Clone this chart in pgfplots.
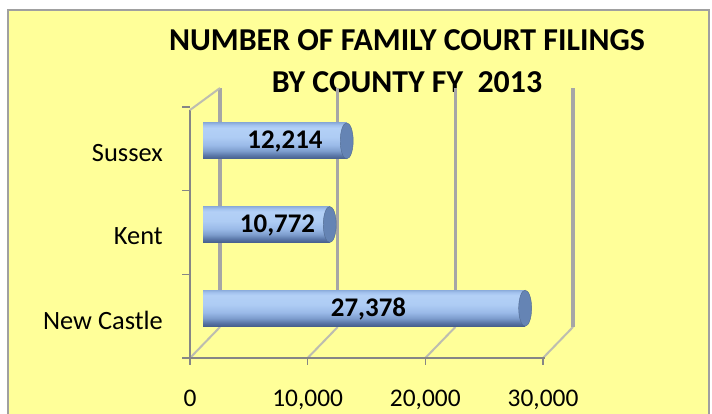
\documentclass[border=0pt]{standalone}
\usepackage{pgfplots}
\pgfplotsset{compat=1.18}
\usepackage{pgfplotstable}
\usepackage{fontspec}
\setmainfont{Carlito}
\definecolor{bgyellow}{HTML}{FFFF99}
\definecolor{framegray}{HTML}{A0A0A0}
\definecolor{gridgray}{HTML}{A6A6A6}
\definecolor{floorgray}{HTML}{BDBDB0}
\definecolor{axisgray}{HTML}{868686}
\definecolor{capcol}{HTML}{6584B4}
\definecolor{cA}{HTML}{465F8C}
\definecolor{cB}{HTML}{5A77A8}
\definecolor{cC}{HTML}{7D9DCD}
\definecolor{cD}{HTML}{9ABAE8}
\definecolor{cE}{HTML}{AECCF4}
\definecolor{cF}{HTML}{B3D0F6}
\definecolor{cG}{HTML}{A3C2EE}
\definecolor{cH}{HTML}{8EAEDC}
\pgfdeclareverticalshading{cylinder}{100bp}{color(0bp)=(cA); color(25bp)=(cA); color(30bp)=(cB); color(36bp)=(cC); color(44bp)=(cD); color(55bp)=(cE); color(68bp)=(cF); color(72bp)=(cG); color(75bp)=(cH); color(100bp)=(cH)}

\pgfplotstableread{
y value labelx
0 27378 15170
1 10772 7440
2 12214 8070
}\filings

\pgfplotsset{
  cylbar/.style={xbar, bar width=36bp, bar shift=0pt, xshift=13bp, yshift=8bp, draw=none,
    shade, shading=cylinder},
}

\begin{document}
\begin{tikzpicture}[x=1bp,y=1bp]
\fill[white] (0,0) rectangle (712,413);
\fill[bgyellow] (8,-3) rectangle (709,403);
\draw[framegray, line width=1.2bp] (8,-3) rectangle (709,403);

\node[anchor=base, font=\fontsize{32}{36}\selectfont\bfseries, inner sep=0] at (407,363) {NUMBER OF FAMILY COURT FILINGS};
\node[anchor=base, font=\fontsize{32}{36}\selectfont\bfseries, inner sep=0] at (407,321) {BY COUNTY FY\ \ 2013};

\begin{axis}[
  at={(190bp,55bp)}, anchor=south west,
  scale only axis, width=353bp, height=251bp,
  xmin=0, xmax=30000, ymin=-0.5, ymax=2.5,
  clip=false,
  axis line style={draw=none},
  tick style={draw=none},
  xtick={0,10000,20000,30000},
  xticklabels={0,{10,000},{20,000},{30,000}},
  ytick={0,1,2},
  yticklabels={New Castle,Kent,Sussex},
  scaled x ticks=false,
  /pgf/number format/.cd, fixed, precision=0, 1000 sep={,}, assume math mode=true, /pgfplots/.cd,
  xticklabel style={font=\fontsize{25.5}{30}\selectfont, inner sep=0pt, anchor=north, yshift=-32bp},
  yticklabel style={font=\fontsize{26.5}{30}\selectfont, inner sep=0pt, anchor=east, xshift=-27bp, yshift=-4bp},
]
% floor diagonals and back-wall gridlines (offset 30px right, 31px up)
\draw[floorgray, line width=2bp] (axis cs:0,-0.5) -- (axis cs:2550,-0.1295);
\draw[floorgray, line width=2bp] (axis cs:10000,-0.5) -- (axis cs:12550,-0.1295);
\draw[floorgray, line width=2bp] (axis cs:20000,-0.5) -- (axis cs:22550,-0.1295);
\draw[floorgray, line width=2bp] (axis cs:30000,-0.5) -- (axis cs:32550,-0.1295);
\draw[gridgray, line width=3.2bp] (axis cs:2550,-0.1295) -- (axis cs:2550,2.727);
\draw[gridgray, line width=3.2bp] (axis cs:12550,-0.1295) -- (axis cs:12550,2.727);
\draw[gridgray, line width=3.2bp] (axis cs:22550,-0.1295) -- (axis cs:22550,2.727);
\draw[gridgray, line width=3.2bp] (axis cs:32550,-0.1295) -- (axis cs:32550,2.727);
% left wall
\draw[axisgray, line width=2.4bp] (axis cs:0,-0.5) -- (axis cs:0,2.464);
\draw[floorgray, line width=2bp] (axis cs:0,2.464) -- (axis cs:2550,2.727);
% front x axis and ticks
\draw[axisgray, line width=1.6bp] (axis cs:-595,-0.5) -- (axis cs:30170,-0.5);
\draw[axisgray, line width=1.4bp] (axis cs:0,-0.5) -- (axis cs:0,-0.584);
\draw[axisgray, line width=1.4bp] (axis cs:10000,-0.5) -- (axis cs:10000,-0.584);
\draw[axisgray, line width=1.4bp] (axis cs:20000,-0.5) -- (axis cs:20000,-0.584);
\draw[axisgray, line width=1.4bp] (axis cs:30000,-0.5) -- (axis cs:30000,-0.584);
% left ticks
\draw[axisgray, line width=1.4bp] (axis cs:-680,-0.5) -- (axis cs:0,-0.5);
\draw[axisgray, line width=1.4bp] (axis cs:-680,0.5) -- (axis cs:0,0.5);
\draw[axisgray, line width=1.4bp] (axis cs:-680,1.5) -- (axis cs:0,1.5);
\draw[axisgray, line width=1.4bp] (axis cs:-680,2.5) -- (axis cs:0,2.5);
% bars, one per county so each has its own cylinder shading
\addplot[cylbar] coordinates {(27378,0)};
\addplot[cylbar] coordinates {(10772,1)};
\addplot[cylbar] coordinates {(12214,2)};
% bar end caps
\addplot[only marks, mark=*, xshift=13bp, yshift=8bp, mark size=18bp,
  mark options={xscale=0.36, fill=capcol, draw=capcol!80!black}]
  table[x=value, y=y] {\filings};
% data labels
\addplot[only marks, mark=none, yshift=7bp,
  point meta=explicit,
  nodes near coords,
  every node near coord/.style={anchor=center, inner sep=0pt, font=\fontsize{27}{31}\selectfont\bfseries, text=black}]
  table[x=labelx, y=y, meta=value] {\filings};
\end{axis}
\pgfresetboundingbox
\path (0,0) rectangle (712,413);
\end{tikzpicture}
\end{document}
